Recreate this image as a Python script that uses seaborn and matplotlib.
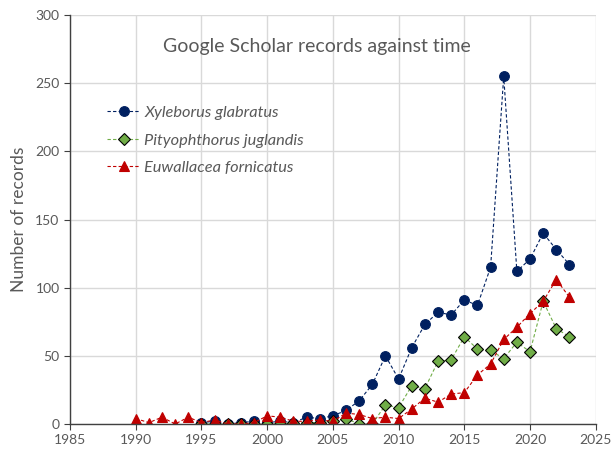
import matplotlib
matplotlib.use("Agg")
import matplotlib.pyplot as plt
import seaborn as sns
import pandas as pd

# Yearly Google Scholar record counts
years_xg = list(range(1995, 2024))
xyleborus = [1, 2, 0, 1, 2, 1, 2, 1, 5, 4,
             6, 10, 17, 29, 50, 33, 56, 73, 82, 80,
             91, 87, 115, 255, 112, 121, 140, 128, 117]

years_pj = list(range(1995, 2024))
pityophthorus = [0, 0, 0, 0, 0, 0, 0, 1, 1, 1,
                 2, 4, 0, 0, 14, 12, 28, 26, 46, 47,
                 64, 55, 54, 48, 60, 53, 90, 70, 64]

years_ef = list(range(1990, 2024))
euwallacea = [4, 1, 5, 0, 5, 1, 3, 0, 0, 1,
              6, 5, 2, 2, 3, 2, 8, 7, 4, 5,
              4, 11, 19, 16, 22, 23, 36, 44, 62, 71,
              81, 90, 106, 93]

labels = ["Xyleborus glabratus", "Pityophthorus juglandis", "Euwallacea fornicatus"]

sns.set_style("whitegrid")
plt.rcParams["font.family"] = ["Lato", "DejaVu Sans"]

fig, ax = plt.subplots(figsize=(6.11, 4.57), dpi=100)
fig.subplots_adjust(left=0.1146, right=0.975, top=0.967, bottom=0.0722)

series = [
    (years_xg, xyleborus, labels[0], "#002060", "o", "#002060", 7),
    (years_pj, pityophthorus, labels[1], "#70AD47", "D", "black", 6),
    (years_ef, euwallacea, labels[2], "#C00000", "^", "#C00000", 7),
]
for yrs, vals, lab, col, mk, edge, ms in series:
    df = pd.DataFrame({"year": yrs, "records": vals})
    sns.lineplot(data=df, x="year", y="records", ax=ax, color=col, label=lab,
                 linestyle=(0, (3, 2)), linewidth=0.8, marker=mk,
                 markersize=ms, markerfacecolor=col, markeredgecolor=edge,
                 markeredgewidth=0.8)

ax.set_xlim(1985, 2025)
ax.set_ylim(0, 300)
ax.set_xticks(range(1985, 2026, 5))
ax.set_yticks(range(0, 301, 50))
ax.grid(True, color="#d9d9d9", linewidth=1)
for s in ["top", "right"]:
    ax.spines[s].set_visible(False)
for s in ["left", "bottom"]:
    ax.spines[s].set_color("#404040")
    ax.spines[s].set_linewidth(1)
ax.tick_params(axis="both", which="major", direction="out", length=4, width=0.8,
               color="#404040", labelsize=10, labelcolor="#595959", left=True, bottom=True)
ax.set_xlabel("")
ax.set_ylabel("Number of records", fontsize=12.5, color="#595959", labelpad=6)

ax.text(0.469, 0.922, "Google Scholar records against time", transform=ax.transAxes,
        ha="center", va="center", fontsize=14, color="#595959")

leg = ax.legend(loc="upper left", bbox_to_anchor=(0.043, 0.815), frameon=False,
                handlelength=2.0, handletextpad=0.25, labelspacing=0.8, fontsize=11.8)
for t in leg.get_texts():
    t.set_fontstyle("italic")
    t.set_color("#595959")

fig.savefig("out.png", dpi=100)
